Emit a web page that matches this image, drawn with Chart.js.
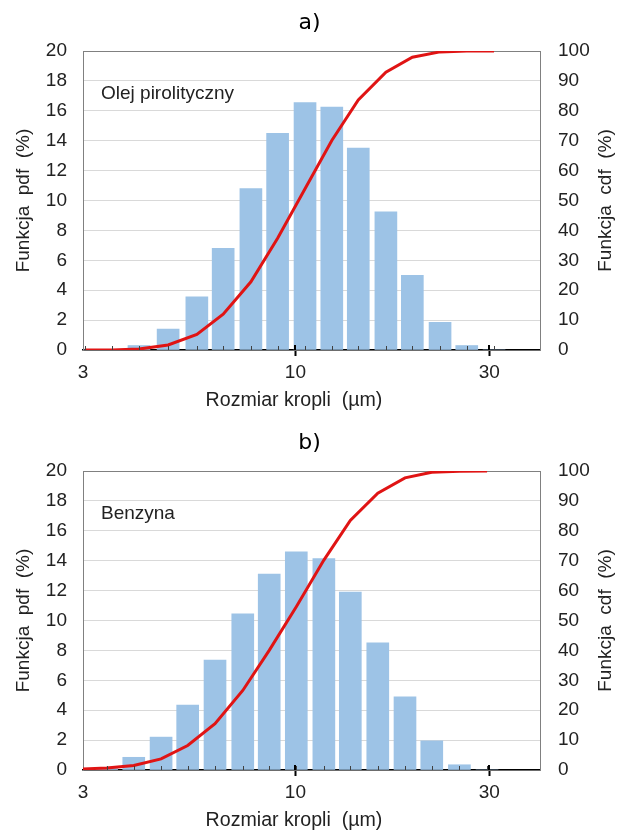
<!DOCTYPE html>
<html>
<head>
<meta charset="utf-8">
<script src="https://cdn.jsdelivr.net/npm/chart.js@4.4.1/dist/chart.umd.min.js"></script>
<style>
  html, body { margin: 0; padding: 0; background: #fff; }
  .box { position: absolute; left: 0; width: 619px; height: 412px; }
</style>
</head>
<body>
<div class="box" style="top:0"><canvas id="chart-a" width="619" height="412"></canvas></div>
<div class="box" style="top:420px"><canvas id="chart-b" width="619" height="412"></canvas></div>
<script>
// tick labels of the droplet size axis
const xTicks = [3, 10, 30];

// a) Olej pirolityczny
const sizesA = [3.03, 3.54, 4.12, 4.86, 5.72, 6.64, 7.77, 9.04, 10.56, 12.29, 14.28, 16.70, 19.40, 22.70, 26.41, 30.83];
const pdfA = [0, 0, 0.3, 1.4, 3.55, 6.8, 10.8, 14.5, 16.55, 16.25, 13.5, 9.25, 5.0, 1.85, 0.3, 0];
const cdfA = [0, 0, 0.3, 1.7, 5.2, 12.0, 22.8, 37.4, 53.9, 70.1, 83.6, 92.9, 97.9, 99.7, 100, 100];

// b) Benzyna
const sizesB = [2.94, 3.43, 4.00, 4.67, 5.43, 6.34, 7.42, 8.62, 10.05, 11.75, 13.65, 15.95, 18.61, 21.66, 25.33, 29.63];
const pdfB = [0, 0.15, 0.85, 2.2, 4.35, 7.35, 10.45, 13.1, 14.6, 14.15, 11.9, 8.5, 4.9, 1.95, 0.35, 0];
const cdfB = [0.3, 0.7, 1.5, 3.7, 8.2, 15.5, 26.6, 40.0, 54.6, 70.2, 83.5, 92.6, 97.7, 99.6, 99.9, 100];

const TEXT = '#222222';
const FONT = '"Liberation Sans", Arial, sans-serif';
const BAR = '#9dc3e6';
const RED = '#e01414';

// label in the plot corner, axis titles drawn by hand and small ticks above the x axis
const extras = {
  id: 'extras',
  afterDatasetsDraw(chart, args, opts) {
    const ctx = chart.ctx;
    const area = chart.chartArea;
    const xs = chart.scales.x;
    ctx.save();
    ctx.strokeStyle = '#404040';
    ctx.lineWidth = 1;
    opts.sizes.forEach(s => {
      if (s < xs.min || s > xs.max) return;
      const px = Math.round(xs.getPixelForValue(s)) + 0.5;
      ctx.beginPath();
      ctx.moveTo(px, area.bottom);
      ctx.lineTo(px, area.bottom - 4);
      ctx.stroke();
    });
    ctx.strokeStyle = '#000';
    ctx.lineWidth = 2;
    xTicks.slice(1).forEach(v => {
      const px = Math.round(xs.getPixelForValue(v));
      ctx.beginPath();
      ctx.moveTo(px, area.bottom);
      ctx.lineTo(px, area.bottom - 5);
      ctx.stroke();
    });
    ctx.restore();
  },
  afterDraw(chart, args, opts) {
    const ctx = chart.ctx;
    const area = chart.chartArea;
    ctx.save();
    ctx.font = '19px ' + FONT;
    ctx.fillStyle = TEXT;
    ctx.textBaseline = 'middle';
    ctx.fillText(opts.text, area.left + 18, area.top + 43);
    ctx.font = '19.6px ' + FONT;
    ctx.textAlign = 'center';
    ctx.fillText(opts.xTitle, 294, area.bottom + 51);
    ctx.translate(chart.width - 13, (area.top + area.bottom) / 2);
    ctx.rotate(-Math.PI / 2);
    ctx.font = '19px ' + FONT;
    ctx.fillText(opts.rightTitle, 0, 0);
    ctx.restore();
  }
};

function makeChart(canvasId, title, label, sizes, pdf, cdf) {
  const ctx = document.getElementById(canvasId);
  return new Chart(ctx, {
    data: {
      datasets: [{
        type: 'line',
        label: 'cdf',
        data: sizes.map((s, i) => ({ x: s, y: cdf[i] })),
        yAxisID: 'y1',
        borderColor: RED,
        borderWidth: 3,
        pointRadius: 0,
        tension: 0,
        order: 0
      }, {
        type: 'bar',
        label: 'pdf',
        data: sizes.map((s, i) => ({ x: s, y: pdf[i] })),
        yAxisID: 'y',
        backgroundColor: BAR,
        barThickness: 22,
        order: 1
      }]
    },
    options: {
      responsive: false,
      animation: false,
      layout: { padding: 0 },
      plugins: {
        legend: { display: false },
        tooltip: { enabled: false },
        title: {
          display: true,
          text: title,
          color: '#000',
          font: { family: '"DejaVu Sans", Verdana, sans-serif', size: 22, weight: 'normal' },
          padding: { top: 10, bottom: 14.6 }
        },
        extras: {
          text: label,
          xTitle: 'Rozmiar kropli  (µm)',
          rightTitle: 'Funkcja  cdf  (%)',
          sizes: sizes
        }
      },
      scales: {
        x: {
          type: 'logarithmic',
          min: 3,
          max: 40,
          offset: false,
          afterBuildTicks: (s) => { s.ticks = xTicks.map(v => ({ value: v })); },
          afterFit: (s) => { s.height = 62; },
          border: { display: true, color: '#000', width: 1.5 },
          grid: {
            offset: false,
            drawOnChartArea: false,
            drawTicks: true,
            tickLength: 6,
            tickWidth: 2,
            tickColor: (c) => c.tick && c.tick.value === 3 ? 'rgba(0,0,0,0)' : '#000'
          },
          ticks: {
            autoSkip: false,
            maxRotation: 0,
            padding: 5.6,
            color: TEXT,
            font: { family: FONT, size: 19 },
            callback: (v) => String(v)
          },
          title: { display: false }
        },
        y: {
          position: 'left',
          min: 0,
          max: 20,
          afterFit: (s) => { s.width = 83; },
          border: { display: true, color: '#808080', width: 1 },
          grid: {
            drawTicks: false,
            color: (c) => c.tick && c.tick.value === 20 ? '#808080' : '#d9d9d9',
            lineWidth: 1
          },
          ticks: {
            stepSize: 2,
            padding: 16,
            color: TEXT,
            font: { family: FONT, size: 19 }
          },
          title: {
            display: true,
            text: 'Funkcja  pdf  (%)',
            color: TEXT,
            font: { family: FONT, size: 19 },
            padding: { top: 12, bottom: 0 }
          }
        },
        y1: {
          position: 'right',
          min: 0,
          max: 100,
          afterFit: (s) => { s.width = 79; },
          border: { display: true, color: '#808080', width: 1 },
          grid: { drawOnChartArea: false, drawTicks: false },
          ticks: {
            stepSize: 10,
            padding: 18,
            color: TEXT,
            font: { family: FONT, size: 19 }
          },
          title: { display: false }
        }
      }
    },
    plugins: [extras]
  });
}

document.addEventListener('DOMContentLoaded', () => {
  makeChart('chart-a', 'a)', 'Olej pirolityczny', sizesA, pdfA, cdfA);
  makeChart('chart-b', 'b)', 'Benzyna', sizesB, pdfB, cdfB);
});
</script>
</body>
</html>
